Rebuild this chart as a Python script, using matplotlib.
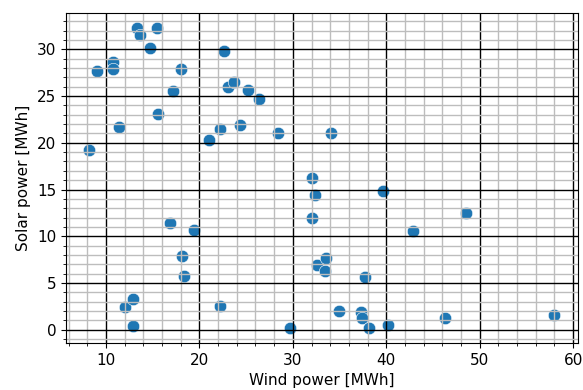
import matplotlib
matplotlib.use('Agg')
import matplotlib.pyplot as plt

# wind / solar production
wind = [8.2, 9.0, 10.7, 10.7, 11.4, 13.3, 13.6, 14.7, 15.5, 15.6,
        17.2, 18.0, 21.0, 22.6, 22.2, 23.1, 23.7, 24.3, 25.2, 26.4,
        28.4, 32.0, 32.4, 32.0, 34.1, 39.7, 48.5, 42.9, 16.8, 19.4,
        18.1, 18.3, 12.0, 12.9, 12.9, 22.2, 29.7, 32.6, 33.55, 33.4,
        34.9, 37.3, 37.4, 37.7, 38.1, 40.2, 46.3, 58.0]
solar = [19.2, 27.7, 28.6, 27.9, 21.7, 32.3, 31.5, 30.1, 32.3, 23.1,
         25.5, 27.9, 20.3, 29.8, 21.5, 26.0, 26.5, 21.9, 25.7, 24.7,
         21.1, 16.2, 14.4, 12.0, 21.0, 14.8, 12.5, 10.6, 11.4, 10.7,
         7.9, 5.7, 2.4, 3.3, 0.35, 2.5, 0.2, 6.9, 7.7, 6.3,
         2.0, 1.9, 1.3, 5.6, 0.2, 0.5, 1.2, 1.6]

plt.rcParams['font.size'] = 11

fig = plt.figure(figsize=(5.83, 3.90), dpi=100)
ax = fig.add_axes([0.113, 0.121, 0.878, 0.846])

ax.scatter(wind, solar, s=80, color='#1f77b4', edgecolor='white', linewidth=0.4)

ax.minorticks_on()
ax.grid(which='major', color='black', linewidth=1.0)
ax.grid(which='minor', color='#bdbdbd', linewidth=1.0)

ax.set_xlabel('Wind power [MWh]')
ax.set_ylabel('Solar power [MWh]')

fig.savefig('out.png')
